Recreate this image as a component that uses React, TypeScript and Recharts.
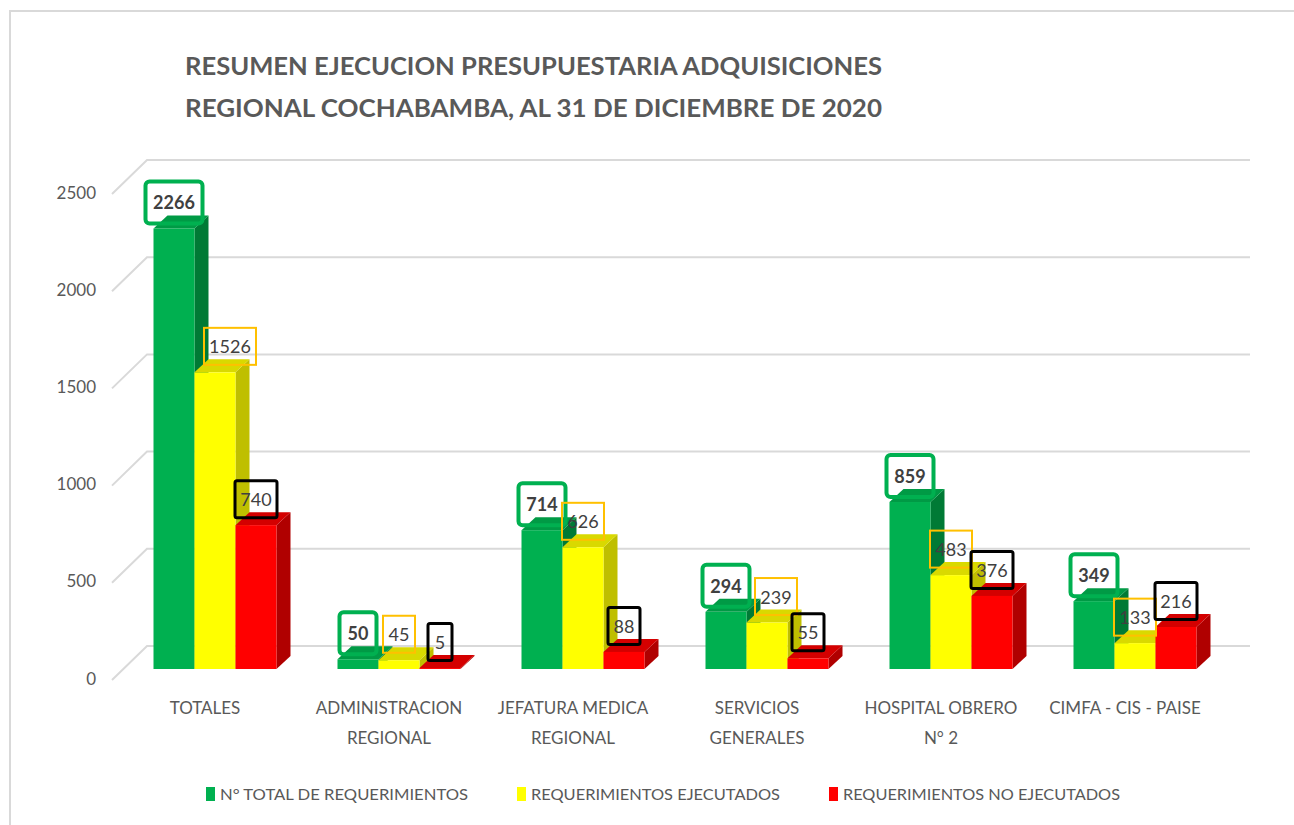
import { Bar, BarChart, CartesianGrid, LabelList, XAxis, YAxis } from "recharts";

const categories = [
  "TOTALES",
  "ADMINISTRACION\nREGIONAL",
  "JEFATURA MEDICA\nREGIONAL",
  "SERVICIOS\nGENERALES",
  "HOSPITAL OBRERO\nN° 2",
  "CIMFA - CIS - PAISE",
];
const totalRequerimientos = [2266, 50, 714, 294, 859, 349];
const ejecutados = [1526, 45, 626, 239, 483, 133];
const noEjecutados = [740, 5, 88, 55, 376, 216];
const yTicks = [0, 500, 1000, 1500, 2000, 2500];

const title = [
  "RESUMEN EJECUCION PRESUPUESTARIA ADQUISICIONES",
  "REGIONAL COCHABAMBA, AL 31 DE DICIEMBRE DE 2020",
];

const data = categories.map((name, i) => ({
  name,
  total: totalRequerimientos[i],
  ejecutados: ejecutados[i],
  noEjecutados: noEjecutados[i],
}));

const FONT = "Lato, 'Open Sans', sans-serif";
const TEXT = "#595959";
// bar depth (3D look)
const DX = 14;
const DY = 13;

type Series = {
  key: "total" | "ejecutados" | "noEjecutados";
  name: string;
  front: string;
  side: string;
  top: string;
  border: string;
  borderWidth: number;
  radius: number;
  bold: boolean;
};

const series: Series[] = [
  {
    key: "total",
    name: "N° TOTAL DE REQUERIMIENTOS",
    front: "#00b050",
    side: "#007a35",
    top: "#009a45",
    border: "#00b050",
    borderWidth: 4,
    radius: 4,
    bold: true,
  },
  {
    key: "ejecutados",
    name: "REQUERIMIENTOS EJECUTADOS",
    front: "#ffff00",
    side: "#bfbf00",
    top: "#d9d900",
    border: "#ffc000",
    borderWidth: 2,
    radius: 0,
    bold: false,
  },
  {
    key: "noEjecutados",
    name: "REQUERIMIENTOS NO EJECUTADOS",
    front: "#ff0000",
    side: "#b00000",
    top: "#d40000",
    border: "#000000",
    borderWidth: 3,
    radius: 2,
    bold: false,
  },
];

// Excel moved a couple of labels sideways to avoid overlaps
const labelNudge: Record<string, number> = { "ejecutados-0": 15, "ejecutados-3": 9 };

function Bar3D(props: any) {
  const { x, y, width, height, s } = props;
  if (width == null || height == null) return null;
  const r = x + width;
  const b = y + height;
  return (
    <g>
      <polygon
        points={`${r},${y} ${r + DX},${y - DY} ${r + DX},${b - DY} ${r},${b}`}
        fill={s.side}
      />
      <polygon
        points={`${x},${y} ${x + DX},${y - DY} ${r + DX},${y - DY} ${r},${y}`}
        fill={s.top}
      />
      <rect x={x} y={y} width={width} height={height} fill={s.front} />
    </g>
  );
}

// Labels are all hung on the last series so they sit above every bar.
// slot = how many bar widths left of the last bar this series sits;
// the vertical position comes from the last bar's own pixel scale.
function makeLabel(s: Series, slot: number, anchorKey: Series["key"]) {
  return (props: any) => {
    const vb = props.viewBox || {};
    const x = props.x ?? vb.x;
    const y = props.y ?? vb.y;
    const width = props.width ?? vb.width;
    const height = props.height ?? vb.height;
    const { value, index } = props;
    if (value == null) return null;
    const anchorValue = data[index][anchorKey];
    const bottom = y + height;
    const pxPerUnit = height / anchorValue;
    const top = bottom - value * pxPerUnit;
    const txt = String(value);
    const w = Math.max(24, txt.length * 10 + 12 + (s.bold ? 5 : 0));
    const h = s.bold ? 42 : 37;
    const cx = x - slot * width + width / 2 + (labelNudge[`${s.key}-${index}`] || 0);
    const cy = top - 26;
    return (
      <g>
        <rect
          x={cx - w / 2}
          y={cy - h / 2}
          width={w}
          height={h}
          rx={s.radius}
          fill="none"
          stroke={s.border}
          strokeWidth={s.borderWidth}
        />
        <text
          x={cx}
          y={cy}
          textAnchor="middle"
          dominantBaseline="central"
          fontFamily={FONT}
          fontSize={18}
          fontWeight={s.bold ? 700 : 400}
          fill="#404040"
        >
          {txt}
        </text>
      </g>
    );
  };
}

function GridLine(props: any) {
  const { x1, x2, y1 } = props;
  return (
    <g key={`g-${y1}`}>
      <polyline
        points={`${x1 - 10.5},${y1 + 11} ${x1 + 24.5},${y1 - 23} ${x2 + 23.5},${y1 - 23}`}
        fill="none"
        stroke="#d9d9d9"
        strokeWidth={2}
      />
    </g>
  );
}

function YTick(props: any) {
  const { x, y, payload } = props;
  return (
    <text
      x={x}
      y={y + 9}
      textAnchor="end"
      dominantBaseline="central"
      fontFamily={FONT}
      fontSize={17}
      fill={TEXT}
    >
      {payload.value}
    </text>
  );
}

function XTick(props: any) {
  const { x, y, payload } = props;
  const lines = String(payload.value).split("\n");
  return (
    <g>
      {lines.map((line, i) => (
        <text
          key={i}
          x={x - 9.5}
          y={y + 45 + i * 30}
          textAnchor="middle"
          fontFamily={FONT}
          fontSize={17}
          fill={TEXT}
        >
          {line}
        </text>
      ))}
    </g>
  );
}

const legendX = [206, 517, 829];
const legendWidth = [248, 249, 277];

export default function App() {
  const last = series.length - 1;
  return (
    <div
      style={{
        position: "absolute",
        left: 0,
        top: 0,
        width: 1294,
        height: 825,
        background: "#fff",
        overflow: "hidden",
      }}
    >
      <div
        style={{
          position: "absolute",
          left: 9,
          top: 10,
          width: 1300,
          height: 900,
          borderLeft: "2px solid #d9d9d9",
          borderTop: "2px solid #d9d9d9",
        }}
      />
      <svg
        width={1294}
        height={140}
        style={{ position: "absolute", left: 0, top: 0 }}
      >
        {title.map((t, i) => (
          <text
            key={i}
            x={185}
            y={75 + i * 42}
            textLength={697}
            lengthAdjust="spacingAndGlyphs"
            fontFamily={FONT}
            fontSize={25}
            fontWeight={700}
            fill={TEXT}
          >
            {t}
          </text>
        ))}
      </svg>
      <div style={{ position: "absolute", left: 0, top: 0 }}>
        <BarChart
          width={1294}
          height={825}
          data={data}
          margin={{ top: 183, right: 67.5, bottom: 76, left: 22.5 }}
          barSize={41}
          barGap={0}
        >
          <CartesianGrid vertical={false} horizontal={GridLine} />
          <XAxis
            dataKey="name"
            axisLine={false}
            tickLine={false}
            tickSize={0}
            tickMargin={0}
            interval={0}
            height={80}
            tick={XTick}
          />
          <YAxis
            domain={[0, 2500]}
            ticks={yTicks}
            axisLine={false}
            tickLine={false}
            tickSize={0}
            tickMargin={26.5}
            width={100}
            tick={YTick}
          />
          {series.map((s, si) => (
            <Bar
              key={s.key}
              dataKey={s.key}
              name={s.name}
              fill={s.front}
              isAnimationActive={false}
              shape={(p: any) => <Bar3D {...p} s={s} />}
            >
              {si === last &&
                series.map((ls, li) => (
                  <LabelList
                    key={ls.key}
                    dataKey={ls.key}
                    content={makeLabel(ls, last - li, s.key)}
                  />
                ))}
            </Bar>
          ))}
        </BarChart>
      </div>
      <svg
        width={1294}
        height={40}
        style={{ position: "absolute", left: 0, top: 780 }}
      >
        {series.map((s, i) => (
          <g key={s.key}>
            <rect x={legendX[i]} y={7} width={9} height={14} fill={s.front} />
            <text
              x={legendX[i] + 14}
              y={20}
              textLength={legendWidth[i]}
              lengthAdjust="spacingAndGlyphs"
              fontFamily={FONT}
              fontSize={16}
              fill={TEXT}
            >
              {s.name}
            </text>
          </g>
        ))}
      </svg>
    </div>
  );
}
